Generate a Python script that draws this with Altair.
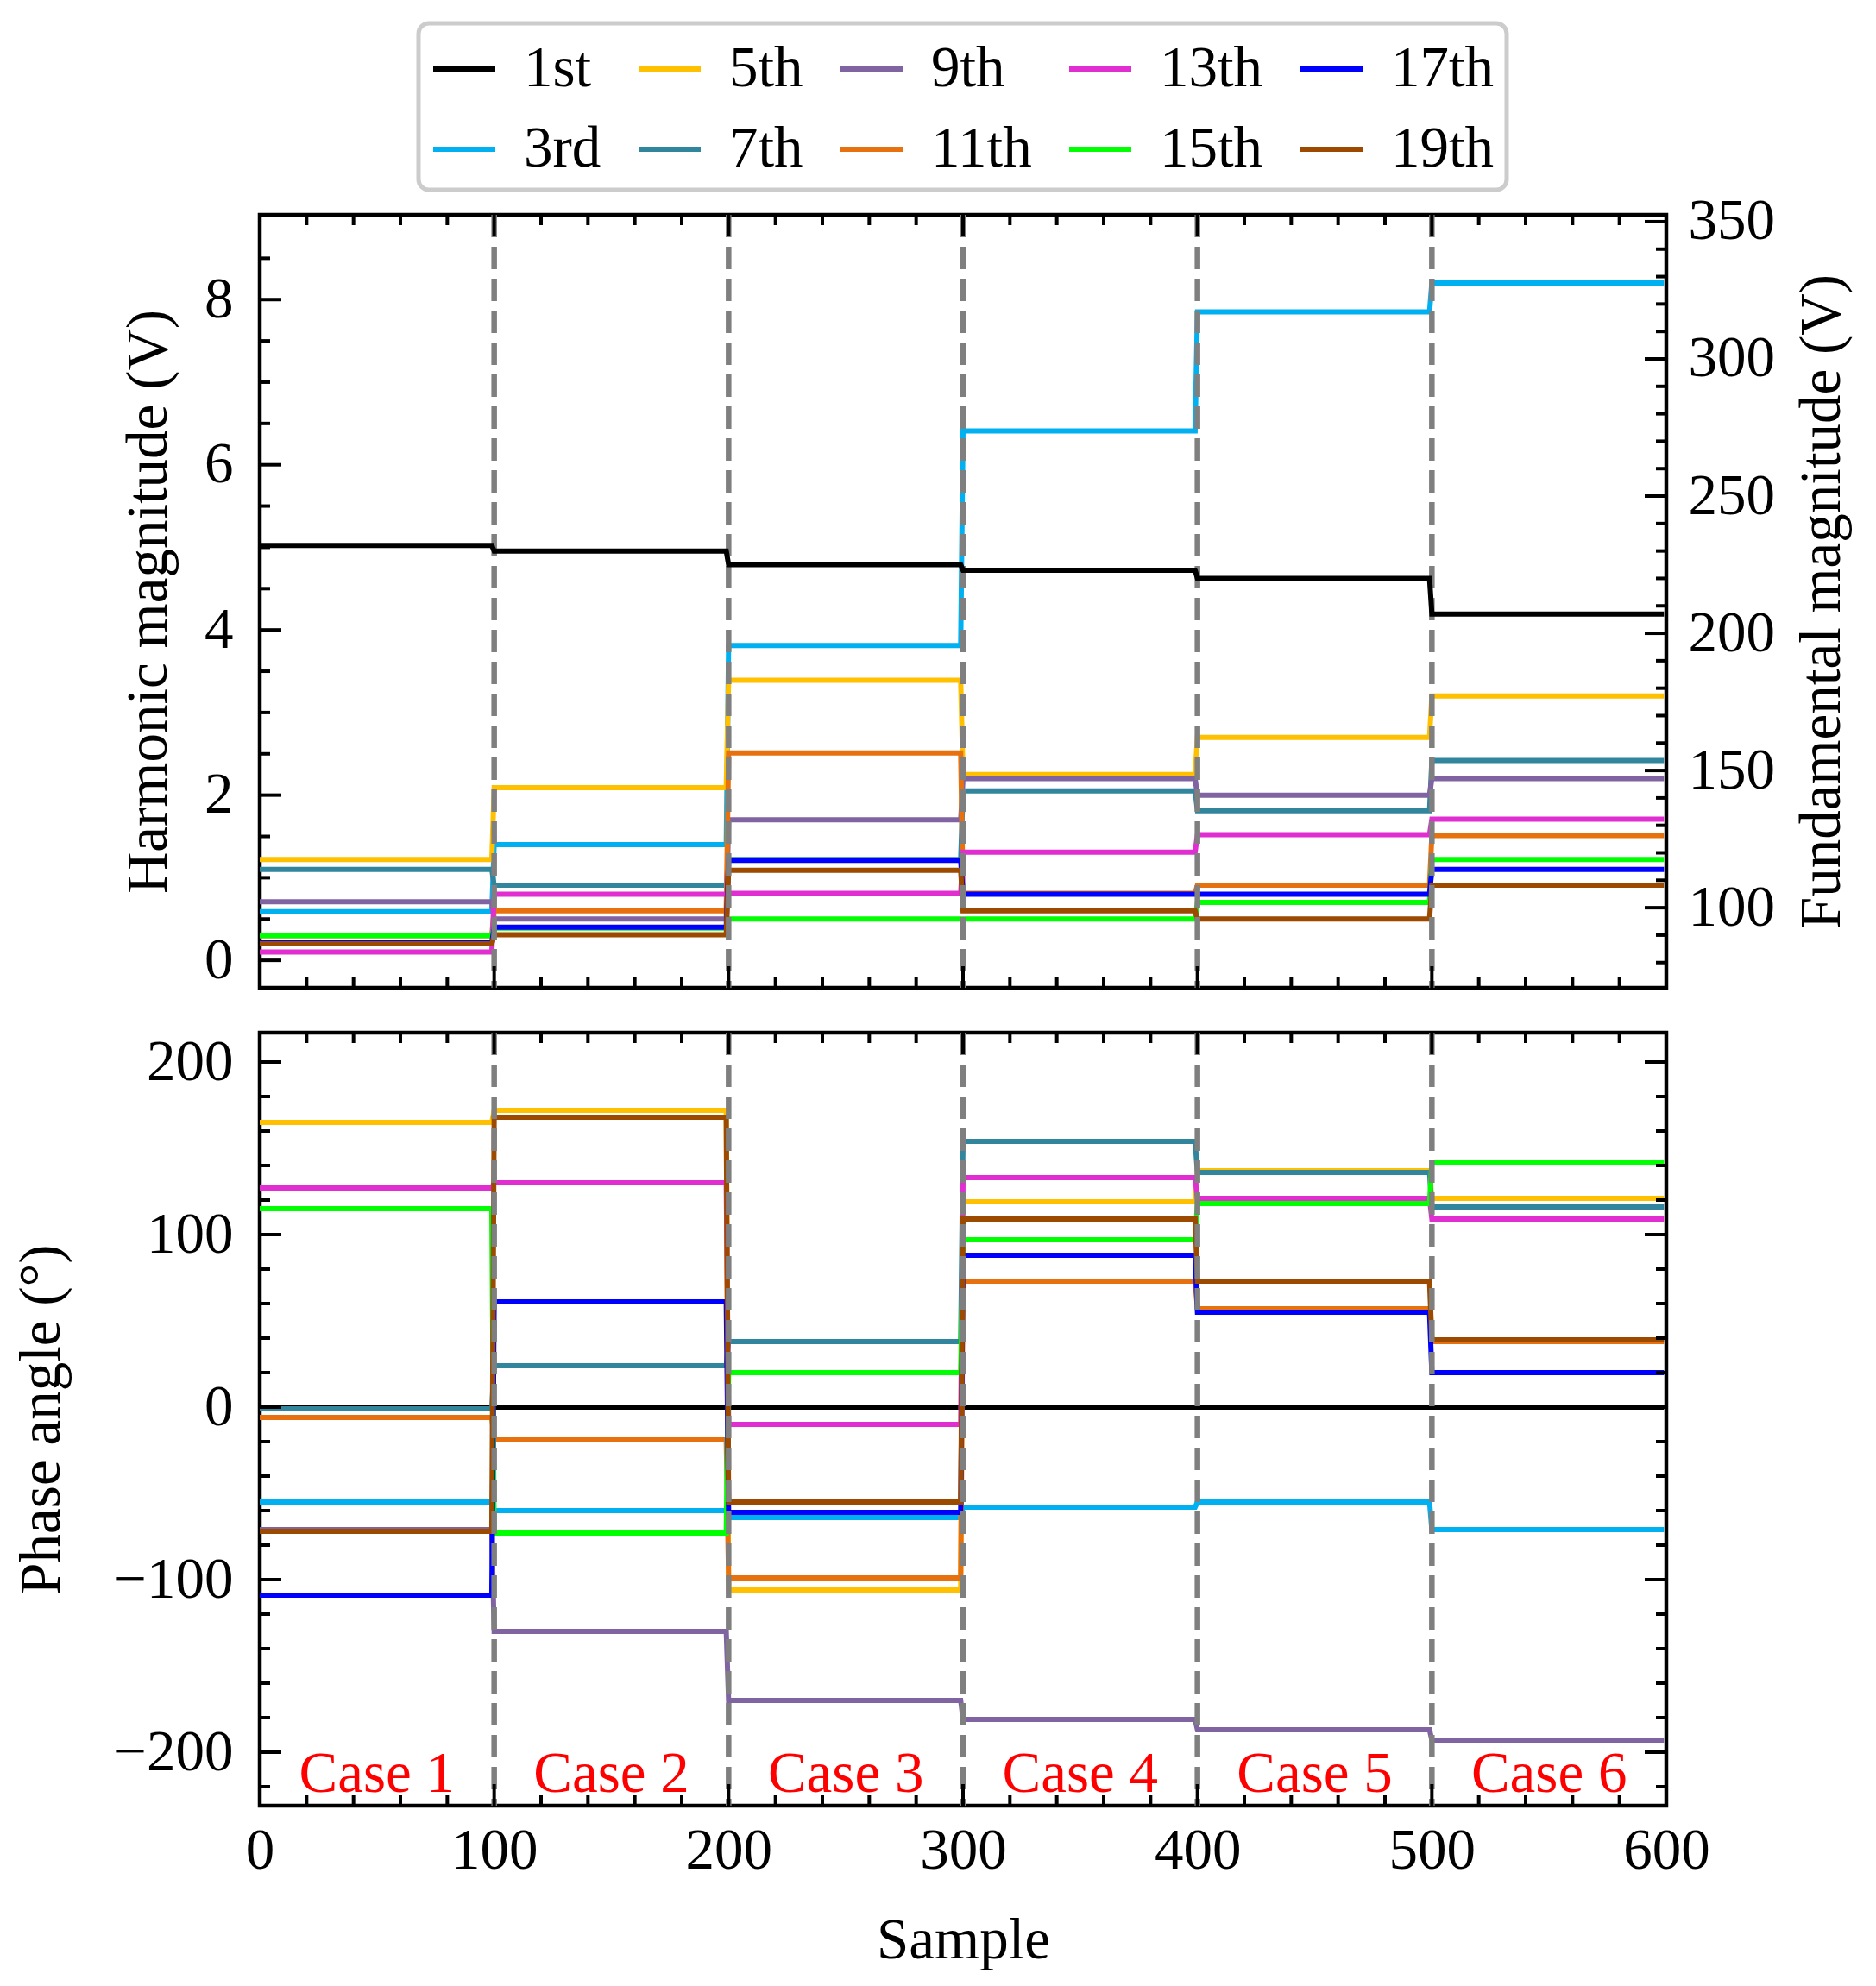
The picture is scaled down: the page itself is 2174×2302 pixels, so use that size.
import altair as alt
import pandas as pd

FONT = "Liberation Serif"
W, H_TOP, H_BOT = 1630, 896, 896
FS = 67

# ---------------- data (per-case levels) ----------------
series_names = ["1st", "3rd", "5th", "7th", "9th", "11th", "13th", "15th", "17th", "19th"]
series_colors = ["#000000", "#00b0f0", "#ffc000", "#31859c", "#8064a2",
                 "#e8710f", "#e02ed0", "#00ff00", "#0000ff", "#9b4a00"]

case_start = [0, 100, 200, 300, 400, 500]
case_end = [99, 199, 299, 399, 499, 599]
case_names = ["Case 1", "Case 2", "Case 3", "Case 4", "Case 5", "Case 6"]
case_centers = [50, 150, 250, 350, 450, 550]
case_label_y = [-213, -213, -213, -213, -213, -213]
boundaries = [100, 200, 300, 400, 500]

# fundamental magnitude (V), right axis
fund_1st = [232, 230, 225, 223, 220, 207]
# harmonic magnitudes (V), left axis
mag_3rd = [0.59, 1.40, 3.81, 6.41, 7.85, 8.20]
mag_5th = [1.22, 2.09, 3.39, 2.25, 2.70, 3.20]
mag_7th = [1.10, 0.91, 1.22, 2.05, 1.81, 2.42]
mag_9th = [0.71, 0.50, 1.70, 2.20, 2.00, 2.20]
mag_11th = [0.30, 0.60, 2.51, 0.81, 0.91, 1.51]
mag_13th = [0.10, 0.80, 0.81, 1.31, 1.52, 1.71]
mag_15th = [0.30, 0.39, 0.50, 0.50, 0.70, 1.22]
mag_17th = [0.21, 0.40, 1.21, 0.80, 0.80, 1.10]
mag_19th = [0.20, 0.31, 1.09, 0.60, 0.50, 0.91]

# phase angles (deg)
ph_1st = [0, 0, 0, 0, 0, 0]
ph_3rd = [-55, -60, -64, -58, -55, -71]
ph_5th = [165, 172, -106, 119, 137, 121]
ph_7th = [-1, 24, 38, 154, 136, 116]
ph_9th = [-71, -130, -170, -181, -187, -193]
ph_11th = [-6, -19, -99, 73, 57, 38]
ph_13th = [127, 130, -10, 133, 121, 109]
ph_15th = [115, -73, 20, 97, 118, 142]
ph_17th = [-109, 61, -61, 88, 55, 20]
ph_19th = [-72, 168, -55, 109, 73, 39]

# axis ticks
x_major = [0, 100, 200, 300, 400, 500, 600]
x_minor = [v for v in range(20, 600, 20) if v % 100 != 0]
ytop_major = [0, 2, 4, 6, 8]
ytop_minor = [v / 2 for v in range(1, 18) if v % 4 != 0]
yright_major = [100, 150, 200, 250, 300, 350]
yright_minor = [v for v in range(80, 351, 10) if v % 50 != 0]
ybot_major = [-200, -100, 0, 100, 200]
ybot_minor = [v for v in range(-220, 201, 20) if v % 100 != 0]

top_dom = [-0.333, 9.026]
right_dom = [70.8, 352.5]
bot_dom = [-231, 217]


def long_df(names, lists):
    rows = []
    for s, vals in zip(names, lists):
        for k, v in enumerate(vals):
            rows.append({"series": s, "sample": case_start[k], "value": v})
            rows.append({"series": s, "sample": case_end[k], "value": v})
    return pd.DataFrame(rows)


harm_df = long_df(series_names[1:], [mag_3rd, mag_5th, mag_7th, mag_9th, mag_11th,
                                     mag_13th, mag_15th, mag_17th, mag_19th])
fund_df = long_df(["1st"], [fund_1st])
phase_df = long_df(series_names, [ph_1st, ph_3rd, ph_5th, ph_7th, ph_9th, ph_11th,
                                  ph_13th, ph_15th, ph_17th, ph_19th])

color_scale = alt.Scale(domain=series_names, range=series_colors)

legend = alt.Legend(title=None, orient="none", legendX=184, legendY=-222, columns=5,
                    symbolType="stroke", symbolSize=72 * 72, symbolStrokeWidth=6,
                    labelFont=FONT, labelFontSize=FS, labelColor="black", labelOffset=30,
                    labelLimit=0, columnPadding=31, rowPadding=21, padding=14,
                    strokeColor="#cccccc", cornerRadius=12, fillColor="white")

common_axis = dict(ticks=False, tickSize=0, domain=False, grid=False,
                   labelFlush=False, labelOverlap=False,
                   labelFont=FONT, labelFontSize=FS, labelColor="black",
                   titleFont=FONT, titleFontSize=FS, titleFontWeight="normal",
                   titleColor="black")

x_top_enc = alt.X("sample:Q", scale=alt.Scale(domain=[0, 600], nice=False, zero=False), axis=None)
x_bot_enc = alt.X("sample:Q", scale=alt.Scale(domain=[0, 600], nice=False, zero=False),
                  axis=alt.Axis(values=x_major, title="Sample", labelPadding=19,
                                titleBaseline="alphabetic", titleX=W / 2, titleY=176,
                                **common_axis))

y_top_enc = alt.Y("value:Q", scale=alt.Scale(domain=top_dom, nice=False, zero=False),
                  axis=alt.Axis(values=ytop_major, title="Harmonic magnitude (V)", orient="left",
                                labelPadding=31, titleAngle=270, titleBaseline="alphabetic",
                                titleAlign="center", titleX=-109, titleY=H_TOP / 2,
                                **common_axis))
y_right_enc = alt.Y("value:Q", scale=alt.Scale(domain=right_dom, nice=False, zero=False),
                    axis=alt.Axis(values=yright_major, title="Fundamental magnitude (V)",
                                  orient="right", labelPadding=25, titleAngle=270,
                                  titleBaseline="alphabetic", titleAlign="center",
                                  titleX=200, titleY=H_TOP / 2, **common_axis))
y_bot_enc = alt.Y("value:Q", scale=alt.Scale(domain=bot_dom, nice=False, zero=False),
                  axis=alt.Axis(values=ybot_major, title="Phase angle (°)", orient="left",
                                labelPadding=31, titleAngle=270, titleBaseline="alphabetic",
                                titleAlign="center", titleX=-233, titleY=H_BOT / 2,
                                **common_axis))

MAJ, MIN, TW = 25, 12, 4


def yticks(vals, y_enc, length, side):
    df = pd.DataFrame({"value": vals})
    if side == "left":
        xs = dict(x=alt.value(0), x2=alt.value(length))
    else:
        xs = dict(x=alt.value(W), x2=alt.value(W - length))
    return alt.Chart(df).mark_rule(color="black", strokeWidth=TW).encode(y=y_enc, **xs)


def xticks(vals, x_enc, height, length, side):
    df = pd.DataFrame({"sample": vals})
    if side == "bottom":
        ys = dict(y=alt.value(height), y2=alt.value(height - length))
    else:
        ys = dict(y=alt.value(0), y2=alt.value(length))
    return alt.Chart(df).mark_rule(color="black", strokeWidth=TW).encode(x=x_enc, **ys)


bound_df = pd.DataFrame({"sample": boundaries})


def dashed(x_enc):
    return alt.Chart(bound_df).mark_rule(color="#7f7f7f", strokeWidth=6.5,
                                         strokeDash=[26, 11]).encode(x=x_enc)


# ---------------- top panel ----------------
harm_lines = alt.Chart(harm_df).mark_line(strokeWidth=6, clip=True).encode(
    x=x_top_enc, y=y_top_enc,
    color=alt.Color("series:N", scale=color_scale, legend=legend),
)
layerA = alt.layer(
    harm_lines,
    dashed(x_top_enc),
    yticks(ytop_major, y_top_enc, MAJ, "left"),
    yticks(ytop_minor, y_top_enc, MIN, "left"),
    xticks(x_major, x_top_enc, H_TOP, MAJ, "bottom"),
    xticks(x_minor, x_top_enc, H_TOP, MIN, "bottom"),
    xticks(x_major, x_top_enc, H_TOP, MAJ, "top"),
    xticks(x_minor, x_top_enc, H_TOP, MIN, "top"),
)
fund_line = alt.Chart(fund_df).mark_line(strokeWidth=6, color="black", clip=True).encode(
    x=x_top_enc, y=y_right_enc)
layerB = alt.layer(
    fund_line,
    yticks(yright_major, y_right_enc, MAJ, "right"),
    yticks(yright_minor, y_right_enc, MIN, "right"),
)
top = alt.layer(layerA, layerB).resolve_scale(y="independent").properties(
    width=W, height=H_TOP)

# ---------------- bottom panel ----------------
phase_lines = alt.Chart(phase_df).mark_line(strokeWidth=6, clip=True).encode(
    x=x_bot_enc, y=y_bot_enc,
    color=alt.Color("series:N", scale=color_scale, legend=None),
)
case_df = pd.DataFrame({"name": case_names, "sample": case_centers, "value": case_label_y})
case_text = alt.Chart(case_df).mark_text(font=FONT, fontSize=FS, color="#ff0000",
                                         baseline="middle", align="center").encode(
    x=x_bot_enc, y=y_bot_enc, text="name:N")
bottom = alt.layer(
    phase_lines,
    dashed(x_bot_enc),
    case_text,
    yticks(ybot_major, y_bot_enc, MAJ, "left"),
    yticks(ybot_minor, y_bot_enc, MIN, "left"),
    yticks(ybot_major, y_bot_enc, MAJ, "right"),
    yticks(ybot_minor, y_bot_enc, MIN, "right"),
    xticks(x_major, x_bot_enc, H_BOT, MAJ, "bottom"),
    xticks(x_minor, x_bot_enc, H_BOT, MIN, "bottom"),
    xticks(x_major, x_bot_enc, H_BOT, MAJ, "top"),
    xticks(x_minor, x_bot_enc, H_BOT, MIN, "top"),
).properties(width=W, height=H_BOT)

chart = alt.vconcat(top, bottom, spacing=40).resolve_scale(color="independent").properties(
    padding={"left": 3, "top": 14, "right": 10, "bottom": 10},
    background="white",
).configure_view(stroke="black", strokeWidth=4.5).configure_legend(strokeWidth=5)

chart.save("out.html", embed_options={"renderer": "svg", "actions": False})
